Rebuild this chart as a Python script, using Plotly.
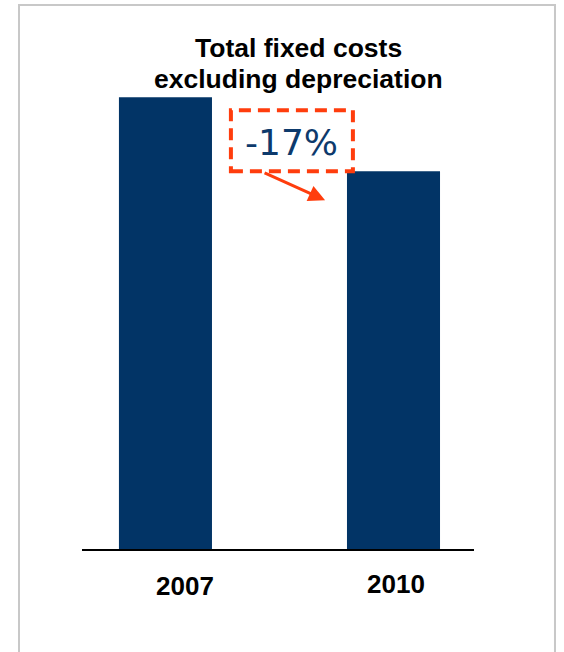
import plotly.graph_objects as go

# ---- data ----
years = ["2007", "2010"]
x_pos = [0, 1]
values = [100, 83.6]          # indexed fixed costs excl. depreciation
change_label = "-17%"
title_lines = ["Total fixed costs", "excluding depreciation"]

NAVY = "#023466"
ORANGE = "#FF3D0D"

fig = go.Figure()
fig.add_trace(go.Bar(
    x=x_pos, y=values, width=0.408,
    marker=dict(color=NAVY, line=dict(width=0)),
    hoverinfo="skip",
))

# year labels under the axis
label_dx = [0.0855, 0.011]
label_y = [-0.0744, -0.0704]
for xp, yr, dx, ly in zip(x_pos, years, label_dx, label_y):
    fig.add_annotation(x=xp + dx, y=ly, xref="x", yref="paper", text=f"<b>{yr}</b>",
                       showarrow=False, font=dict(family="Arial", size=26, color="black"),
                       xanchor="center", yanchor="middle")

# change label with dashed box
fig.add_annotation(x=0.553, y=90.0, xref="x", yref="y", text=change_label, showarrow=False,
                   font=dict(family="DejaVu Sans", size=36, color="#0d3a6c"),
                   xanchor="center", yanchor="middle")
fig.add_shape(type="rect", xref="x", yref="y", x0=0.287, x1=0.822, y0=83.6, y1=97.1,
              line=dict(color=ORANGE, width=4, dash="12px,7px"), fillcolor="rgba(0,0,0,0)")
# arrow
fig.add_annotation(x=0.70, y=77.2, xref="x", yref="y", ax=-62, ay=-28, axref="pixel", ayref="pixel",
                   text="", showarrow=True, arrowhead=2, arrowsize=1.1, arrowwidth=3,
                   arrowcolor=ORANGE)

# outer frame
fig.add_shape(type="rect", xref="paper", yref="paper", x0=-0.1607, x1=1.2066, y0=-0.25, y1=1.0946,
              line=dict(color="#c8c8c8", width=2), fillcolor="rgba(0,0,0,0)", layer="below")

# title (two lines, tight spacing)
title_y = [1.0081, 0.9457]
for txt, ty in zip(title_lines, title_y):
    fig.add_annotation(x=0.553, y=ty, xref="paper", yref="paper", text=f"<b>{txt}</b>",
                       showarrow=False, font=dict(family="Arial", size=26.5, color="black"),
                       xanchor="center", yanchor="middle")

fig.update_layout(
    width=564, height=652,
    margin=dict(l=82, r=90, t=52, b=103),
    paper_bgcolor="white", plot_bgcolor="white",
    showlegend=False,
    xaxis=dict(range=[-0.366, 1.353], showticklabels=False, showgrid=False, zeroline=False,
               showline=True, linecolor="black", linewidth=1.5, ticks=""),
    yaxis=dict(range=[0, 110], visible=False),
)

fig.write_html("out.html")
